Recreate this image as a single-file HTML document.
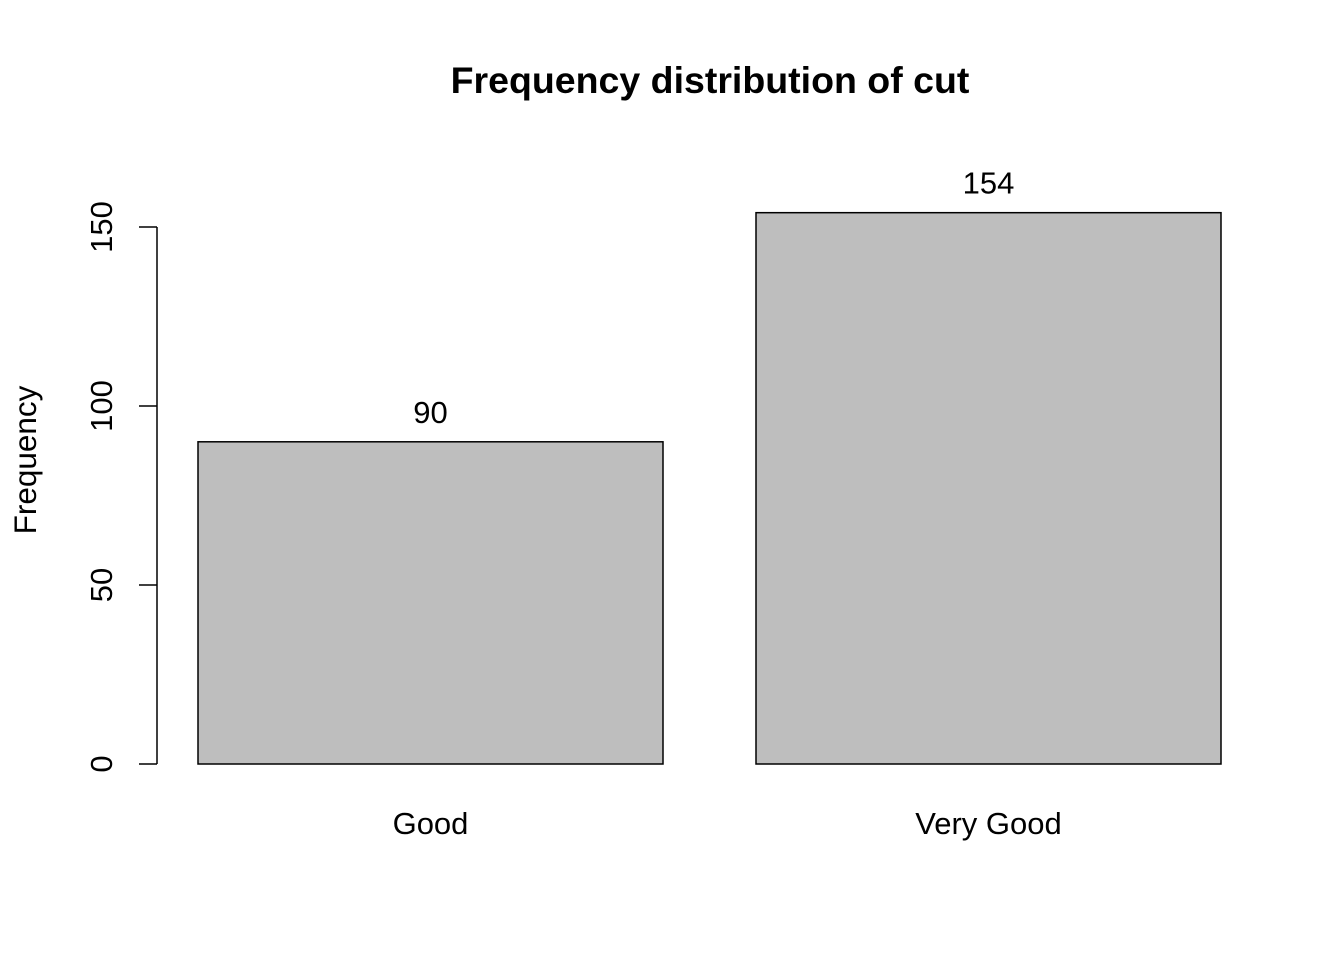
<!DOCTYPE html>
<html><head><meta charset="utf-8"><style>
body{margin:0;background:#fff}
svg{display:block;font-family:"Liberation Sans",Arial,sans-serif}
</style></head><body>
<svg id="chart" width="1344" height="960">
<text x="710" y="93" text-anchor="middle" font-size="37.5" font-weight="bold">Frequency distribution of cut</text>
<text transform="translate(36,460) rotate(-90)" text-anchor="middle" font-size="31.5">Frequency</text>
<g id="yaxis"></g>
<g id="bars"></g>
</svg>
<script>
const categories = ["Good", "Very Good"];
const values = [90, 154];
const yTicks = [0, 50, 100, 150];
const NS = "http://www.w3.org/2000/svg";
const y0 = 764, scale = (764 - 227) / 150;
const y = v => y0 - v * scale;
const barLeft = 198, barWidth = 465, barGap = 93;
function mk(tag, attrs, parent, text) {
  const e = document.createElementNS(NS, tag);
  for (const k in attrs) e.setAttribute(k, attrs[k]);
  if (text !== undefined) e.textContent = text;
  parent.appendChild(e);
  return e;
}
const ya = document.getElementById("yaxis");
const axisLine = mk("line", {x1:157, x2:157, y1:y(yTicks[0]), y2:y(yTicks[yTicks.length-1]), stroke:"#000", "stroke-width":1.5}, ya);


yTicks.forEach(t => {
  const tk = mk("line", {x1:139, x2:157, y1:y(t), y2:y(t), stroke:"#000", "stroke-width":1.5}, ya);
  
  
  const lb = mk("text", {transform:`translate(112,${y(t)}) rotate(-90)`, "text-anchor":"middle", "font-size":31}, ya, String(t));
  
  
});
const bg = document.getElementById("bars");
categories.forEach((c, i) => {
  const x = barLeft + i * (barWidth + barGap);
  const r = mk("rect", {x:x, y:y(values[i]), width:barWidth, height:y0 - y(values[i]), fill:"#bebebe", stroke:"#000", "stroke-width":1.5}, bg);
  
  
  const v = mk("text", {x:x + barWidth/2, y:y(values[i]) - 19, "text-anchor":"middle", "font-size":31}, bg, String(values[i]));
  
  
  const l = mk("text", {x:x + barWidth/2, y:834, "text-anchor":"middle", "font-size":31}, bg, c);
  
  
});
</script>
</body></html>
